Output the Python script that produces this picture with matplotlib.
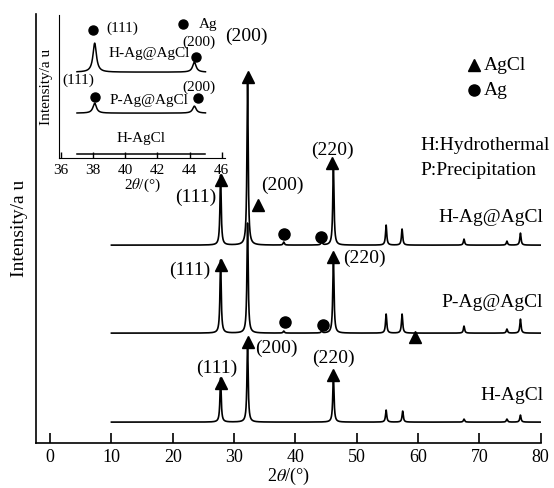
import matplotlib.pyplot as plt
import numpy as np

plt.rcParams['font.family'] = ['Liberation Serif', 'DejaVu Serif']
plt.rcParams['mathtext.fontset'] = 'stix'

# Peak positions (2theta) and heights (arbitrary units)
peaks_hagcl = [27.8, 32.2, 46.2, 54.8, 57.5, 67.5, 74.5, 76.7]
heights_hagcl = [44, 78, 47, 12, 11, 3, 3, 7]

peaks_pag = [27.8, 32.2, 38.1, 44.3, 46.2, 54.8, 57.4, 67.5, 74.5, 76.7]
heights_pag = [73, 110, 2, 2, 76, 19, 19, 7, 4, 14]

peaks_hag = [27.8, 32.2, 38.1, 44.3, 46.2, 54.8, 57.4, 67.5, 74.5, 76.7]
heights_hag = [70, 163, 3, 4, 80, 20, 16, 6, 4, 12]

offsets = [21, 110, 198]

# inset (36-46 deg)
inset_peaks = [38.1, 44.3]
inset_hag = [29, 10]
inset_pag = [10, 7]
inset_hagcl = [0, 0]
inset_offsets = [4, 45, 86]


def pattern(x, pos, hts, w):
    y = np.zeros_like(x)
    for p, h in zip(pos, hts):
        y += h / (1 + ((x - p) / w) ** 2)
    return y


fig = plt.figure(figsize=(5.54, 4.88), dpi=100)
ax = fig.add_axes([0.065, 0.092, 0.912, 0.879])

x = np.arange(10, 80, 0.01)
for pos, hts, off in [(peaks_hagcl, heights_hagcl, offsets[0]),
                      (peaks_pag, heights_pag, offsets[1]),
                      (peaks_hag, heights_hag, offsets[2])]:
    ax.plot(x, off + pattern(x, pos, hts, 0.12), color='black', lw=1.2)

ax.set_xlim(-2.3, 80.1)
ax.set_ylim(0, 429)
ax.set_xticks(np.arange(0, 81, 10))
ax.set_yticks([])
ax.tick_params(axis='x', direction='in', length=7, width=1.2, labelsize=13, pad=4)
for s in ['top', 'right']:
    ax.spines[s].set_visible(False)
for s in ['left', 'bottom']:
    ax.spines[s].set_linewidth(1.2)
ax.set_xlabel(r'2$\theta$/(°)', fontsize=13, labelpad=0)
ax.set_ylabel('Intensity/a u', fontsize=14, labelpad=6)

fs = 14
tri = dict(marker='^', color='black', ms=9, ls='none')
cir = dict(marker='o', color='black', ms=8, ls='none')

# H-Ag@AgCl
ax.plot([27.8, 32.2, 33.9, 46.0], [263, 366, 238, 280], **tri)
ax.plot([38.2, 44.2], [209, 206], **cir)
ax.text(23.8, 246, '(111)', fontsize=fs, ha='center', va='center')
ax.text(32.0, 407, '(200)', fontsize=fs, ha='center', va='center')
ax.text(37.8, 258, '(200)', fontsize=fs, ha='center', va='center')
ax.text(46.0, 293, '(220)', fontsize=fs, ha='center', va='center')
ax.text(80.4, 226, 'H-Ag@AgCl', fontsize=fs, ha='right', va='center')

# P-Ag@AgCl
ax.plot([27.8, 46.2, 59.5], [178, 186, 106], **tri)
ax.plot([38.3, 44.5], [121, 118], **cir)
ax.text(22.8, 173, '(111)', fontsize=fs, ha='center', va='center')
ax.text(51.2, 185, '(220)', fontsize=fs, ha='center', va='center')
ax.text(80.4, 141, 'P-Ag@AgCl', fontsize=fs, ha='right', va='center')

# H-AgCl
ax.plot([27.8, 32.2, 46.2], [60, 101, 68], **tri)
ax.text(27.2, 75, '(111)', fontsize=fs, ha='center', va='center')
ax.text(33.4, 95, '(200)', fontsize=fs, ha='left', va='center')
ax.text(46.2, 85, '(220)', fontsize=fs, ha='center', va='center')
ax.text(80.4, 48, 'H-AgCl', fontsize=fs, ha='right', va='center')

# legend and notes
ax.plot([69.2], [378], **tri)
ax.plot([69.2], [353], **cir)
ax.text(70.8, 378, 'AgCl', fontsize=fs, ha='left', va='center')
ax.text(70.8, 353, 'Ag', fontsize=fs, ha='left', va='center')
ax.text(60.4, 298, 'H:Hydrothermal', fontsize=fs, ha='left', va='center')
ax.text(60.4, 273, 'P:Precipitation', fontsize=fs, ha='left', va='center')

# inset
ins = fig.add_axes([0.1065, 0.676, 0.2995, 0.293])
xi = np.arange(37, 45, 0.01)
for hts, off in [(inset_hagcl, inset_offsets[0]),
                 (inset_pag, inset_offsets[1]),
                 (inset_hag, inset_offsets[2])]:
    ins.plot(xi, off + pattern(xi, inset_peaks, hts, 0.13), color='black', lw=1.1)
ins.set_xlim(35.88, 46.2)
ins.set_ylim(0, 143)
ins.set_xticks(np.arange(36, 47, 2))
ins.set_yticks([])
ins.tick_params(axis='x', direction='in', length=4, width=1.0, labelsize=11, pad=4)
for s in ['top', 'right']:
    ins.spines[s].set_visible(False)
ins.patch.set_alpha(0)
ins.set_xlabel(r'2$\theta$/(°)', fontsize=11, labelpad=0)
ins.set_ylabel('Intensity/a u', fontsize=11, labelpad=4)

fi = 11
ins.plot([38.0, 44.4], [128, 101], marker='o', color='black', ms=6.5, ls='none')
ins.plot([38.1, 44.5], [61, 60], marker='o', color='black', ms=6.5, ls='none')
ins.plot([43.6], [134], marker='o', color='black', ms=6.5, ls='none')
ins.text(38.85, 130, '(111)', fontsize=fi, ha='left', va='center')
ins.text(44.6, 134, 'Ag', fontsize=fi, ha='left', va='center')
ins.text(41.5, 105, 'H-Ag@AgCl', fontsize=fi, ha='center', va='center')
ins.text(44.6, 116, '(200)', fontsize=fi, ha='center', va='center')
ins.text(37.1, 78, '(111)', fontsize=fi, ha='center', va='center')
ins.text(41.5, 58, 'P-Ag@AgCl', fontsize=fi, ha='center', va='center')
ins.text(44.6, 71, '(200)', fontsize=fi, ha='center', va='center')
ins.text(41.0, 20, 'H-AgCl', fontsize=fi, ha='center', va='center')

fig.savefig('out.png', dpi=100)
